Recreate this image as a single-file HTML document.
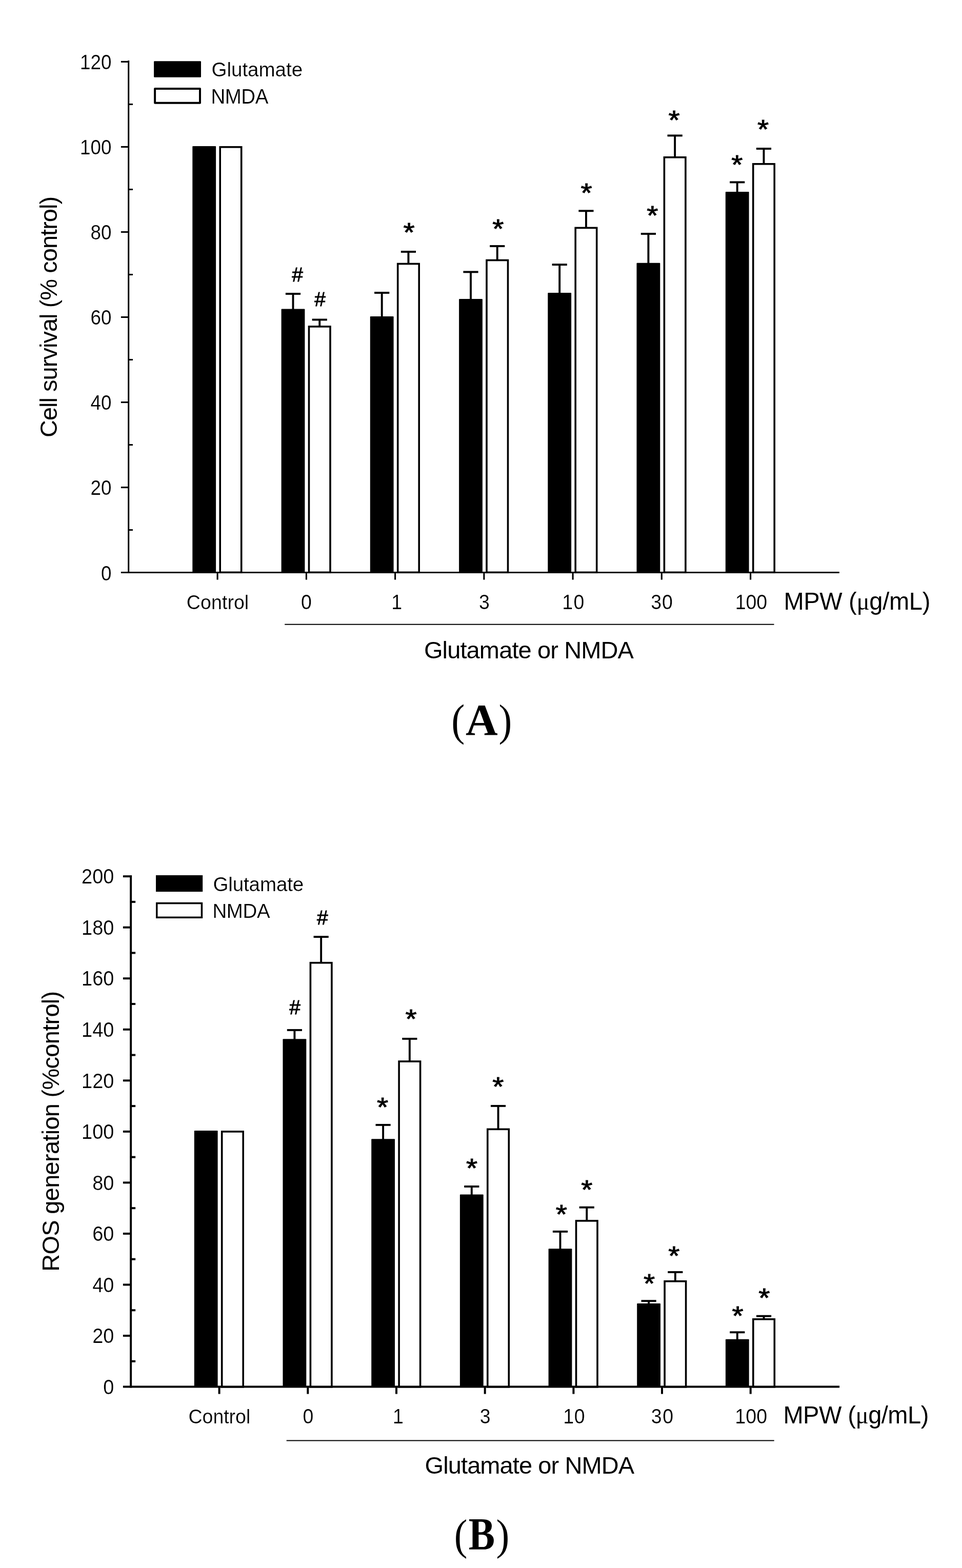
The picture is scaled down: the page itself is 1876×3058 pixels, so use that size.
<!DOCTYPE html>
<html lang="en">
<head>
<meta charset="utf-8">
<title>Figure: MPW effects on cell survival and ROS generation</title>
<style>
html, body { margin: 0; padding: 0; background: #fff; }
body { width: 1876px; height: 3058px; overflow: hidden; }
svg { display: block; }
svg text { font-family: "Liberation Sans", Arial, Helvetica, sans-serif; fill: #000; stroke: #fff; stroke-width: 0.2px; }
svg text.lg { stroke: none; }
svg text.pl { font-family: "Liberation Serif", "Times New Roman", Times, serif; font-weight: bold; stroke: none; }
svg text.pr { font-family: "Liberation Serif", "Times New Roman", Times, serif; stroke: none; }
svg tspan.mu { font-family: "Liberation Serif", "Times New Roman", Times, serif; }
svg text.hs { stroke: #000; stroke-width: 0.9px; }
svg text.as { stroke: #000; stroke-width: 1.1px; stroke-linejoin: miter; }
</style>
</head>
<body>
<svg width="1876" height="3058" viewBox="0 0 1876 3058">
<rect x="0" y="0" width="1876" height="3058" fill="#fff"/>
<!-- Panel A: cell survival -->
<g stroke="#000" fill="none">
<rect x="375.3" y="285" width="45.8" height="831.6" rx="1" fill="#000" stroke="none"/>
<rect x="429.2" y="286.8" width="41.5" height="829.5" fill="#fff" stroke-width="3.6"/>
<line x1="571.5" y1="573" x2="571.5" y2="604.4" stroke-width="3.9"/>
<line x1="556.9" y1="573" x2="586.1" y2="573" stroke-width="3.9"/>
<line x1="623.25" y1="623.5" x2="623.25" y2="637.1" stroke-width="3.9"/>
<line x1="608.65" y1="623.5" x2="637.85" y2="623.5" stroke-width="3.9"/>
<rect x="548.6" y="602.4" width="45.8" height="514.2" rx="1" fill="#000" stroke="none"/>
<rect x="602.5" y="636.9" width="41.5" height="479.4" fill="#fff" stroke-width="3.6"/>
<line x1="744.7" y1="571" x2="744.7" y2="619" stroke-width="3.9"/>
<line x1="730.1" y1="571" x2="759.3" y2="571" stroke-width="3.9"/>
<line x1="796.45" y1="491" x2="796.45" y2="514.7" stroke-width="3.9"/>
<line x1="781.85" y1="491" x2="811.05" y2="491" stroke-width="3.9"/>
<rect x="721.8" y="617" width="45.8" height="499.6" rx="1" fill="#000" stroke="none"/>
<rect x="775.7" y="514.5" width="41.5" height="601.8" fill="#fff" stroke-width="3.6"/>
<line x1="918" y1="530.4" x2="918" y2="585" stroke-width="3.9"/>
<line x1="903.4" y1="530.4" x2="932.6" y2="530.4" stroke-width="3.9"/>
<line x1="969.75" y1="480" x2="969.75" y2="507.7" stroke-width="3.9"/>
<line x1="955.15" y1="480" x2="984.35" y2="480" stroke-width="3.9"/>
<rect x="895.1" y="583" width="45.8" height="533.6" rx="1" fill="#000" stroke="none"/>
<rect x="949" y="507.5" width="41.5" height="608.8" fill="#fff" stroke-width="3.6"/>
<line x1="1091.2" y1="516.1" x2="1091.2" y2="573" stroke-width="3.9"/>
<line x1="1076.6" y1="516.1" x2="1105.8" y2="516.1" stroke-width="3.9"/>
<line x1="1142.95" y1="411.3" x2="1142.95" y2="444.6" stroke-width="3.9"/>
<line x1="1128.35" y1="411.3" x2="1157.55" y2="411.3" stroke-width="3.9"/>
<rect x="1068.3" y="571" width="45.8" height="545.6" rx="1" fill="#000" stroke="none"/>
<rect x="1122.2" y="444.4" width="41.5" height="671.9" fill="#fff" stroke-width="3.6"/>
<line x1="1264.4" y1="456" x2="1264.4" y2="514.7" stroke-width="3.9"/>
<line x1="1249.8" y1="456" x2="1279" y2="456" stroke-width="3.9"/>
<line x1="1316.15" y1="264.4" x2="1316.15" y2="307" stroke-width="3.9"/>
<line x1="1301.55" y1="264.4" x2="1330.75" y2="264.4" stroke-width="3.9"/>
<rect x="1241.5" y="512.7" width="45.8" height="603.9" rx="1" fill="#000" stroke="none"/>
<rect x="1295.4" y="306.8" width="41.5" height="809.5" fill="#fff" stroke-width="3.6"/>
<line x1="1437.7" y1="355.4" x2="1437.7" y2="376" stroke-width="3.9"/>
<line x1="1423.1" y1="355.4" x2="1452.3" y2="355.4" stroke-width="3.9"/>
<line x1="1489.45" y1="290" x2="1489.45" y2="320" stroke-width="3.9"/>
<line x1="1474.85" y1="290" x2="1504.05" y2="290" stroke-width="3.9"/>
<rect x="1414.8" y="374" width="45.8" height="742.6" rx="1" fill="#000" stroke="none"/>
<rect x="1468.7" y="319.8" width="41.5" height="796.5" fill="#fff" stroke-width="3.6"/>
<line x1="250.7" y1="118" x2="250.7" y2="1118.1" stroke-width="3"/>
<line x1="235.9" y1="1116.6" x2="1636.8" y2="1116.6" stroke-width="3"/>
<line x1="235.9" y1="120.4" x2="250.7" y2="120.4" stroke-width="3.1"/>
<line x1="250.7" y1="203.42" x2="259" y2="203.42" stroke-width="3"/>
<line x1="235.9" y1="286.43" x2="250.7" y2="286.43" stroke-width="3.1"/>
<line x1="250.7" y1="369.45" x2="259" y2="369.45" stroke-width="3"/>
<line x1="235.9" y1="452.47" x2="250.7" y2="452.47" stroke-width="3.1"/>
<line x1="250.7" y1="535.48" x2="259" y2="535.48" stroke-width="3"/>
<line x1="235.9" y1="618.5" x2="250.7" y2="618.5" stroke-width="3.1"/>
<line x1="250.7" y1="701.52" x2="259" y2="701.52" stroke-width="3"/>
<line x1="235.9" y1="784.53" x2="250.7" y2="784.53" stroke-width="3.1"/>
<line x1="250.7" y1="867.55" x2="259" y2="867.55" stroke-width="3"/>
<line x1="235.9" y1="950.57" x2="250.7" y2="950.57" stroke-width="3.1"/>
<line x1="250.7" y1="1033.58" x2="259" y2="1033.58" stroke-width="3"/>
<line x1="424.1" y1="1116.6" x2="424.1" y2="1130.6" stroke-width="3.1"/>
<line x1="597.4" y1="1116.6" x2="597.4" y2="1130.6" stroke-width="3.1"/>
<line x1="770.6" y1="1116.6" x2="770.6" y2="1130.6" stroke-width="3.1"/>
<line x1="943.9" y1="1116.6" x2="943.9" y2="1130.6" stroke-width="3.1"/>
<line x1="1117.1" y1="1116.6" x2="1117.1" y2="1130.6" stroke-width="3.1"/>
<line x1="1290.3" y1="1116.6" x2="1290.3" y2="1130.6" stroke-width="3.1"/>
<line x1="1463.6" y1="1116.6" x2="1463.6" y2="1130.6" stroke-width="3.1"/>
<line x1="555.2" y1="1217.7" x2="1509.5" y2="1217.7" stroke-width="2"/>
<rect x="300.1" y="119.2" width="91.9" height="31.6" rx="1.2" fill="#000" stroke="none"/>
<rect x="302.1" y="173.1" width="87.9" height="27.7" fill="#fff" stroke-width="4" stroke-linejoin="round"/>
</g>
<g>
<text transform="translate(217.4,135.3) scale(0.982,1.07)" font-size="37.5" text-anchor="end">120</text>
<text transform="translate(217.4,301.33) scale(0.982,1.07)" font-size="37.5" text-anchor="end">100</text>
<text transform="translate(217.4,467.37) scale(0.982,1.07)" font-size="37.5" text-anchor="end">80</text>
<text transform="translate(217.4,633.4) scale(0.982,1.07)" font-size="37.5" text-anchor="end">60</text>
<text transform="translate(217.4,799.43) scale(0.982,1.07)" font-size="37.5" text-anchor="end">40</text>
<text transform="translate(217.4,965.47) scale(0.982,1.07)" font-size="37.5" text-anchor="end">20</text>
<text transform="translate(217.4,1131.5) scale(0.982,1.07)" font-size="37.5" text-anchor="end">0</text>
<text transform="translate(363.86,1187.6) scale(1,1.04)" font-size="37.5" letter-spacing="0.08">Control</text>
<text transform="translate(586.99,1187.6) scale(1,1.07)" font-size="37.5">0</text>
<text transform="translate(763.13,1187.6) scale(1,1.07)" font-size="37.5">1</text>
<text transform="translate(934.07,1187.6) scale(1,1.07)" font-size="37.5">3</text>
<text transform="translate(1096.35,1187.6) scale(1,1.07)" font-size="37.5" letter-spacing="1.25">10</text>
<text transform="translate(1269.13,1187.6) scale(1,1.07)" font-size="37.5" letter-spacing="1.09">30</text>
<text transform="translate(1433.84,1187.6) scale(1,1.07)" font-size="37.5" letter-spacing="-0.14">100</text>
<text transform="translate(1528.4,1188.5) scale(1,1.03)" font-size="47" class="lg" letter-spacing="-0.3">MPW (<tspan class="mu">μ</tspan>g/mL)</text>
<text x="826.93" y="1283.9" font-size="47" class="lg" letter-spacing="-0.88">Glutamate or NMDA</text>
<g class="panel-label"><text transform="translate(880.36,1433.79) scale(0.9100,1.0003)" font-size="86" class="pr">(</text><text transform="translate(908.05,1432.75) scale(1.0093,1.0154)" font-size="86" class="pl">A</text><text transform="translate(972.5,1433.79) scale(0.9009,1.0003)" font-size="86" class="pr">)</text></g>
<text transform="translate(111.2,853.02) rotate(-90)" font-size="47" class="lg" letter-spacing="-0.98">Cell survival (% control)</text>
<text x="412.47" y="148.9" font-size="38.5" letter-spacing="0.01">Glutamate</text>
<text transform="translate(411.42,202) scale(1,1.045)" font-size="38.5" letter-spacing="-0.47">NMDA</text>
<text x="580.1" y="548.8" font-size="39" text-anchor="middle" class="hs">#</text>
<text x="624.1" y="597" font-size="39" text-anchor="middle" class="hs">#</text>
<text transform="translate(797.6,454) scale(1,0.9)" y="19.21" font-size="57" text-anchor="middle" class="as">*</text>
<text transform="translate(971.4,446.4) scale(1,0.9)" y="19.21" font-size="57" text-anchor="middle" class="as">*</text>
<text transform="translate(1143.7,377) scale(1,0.9)" y="19.21" font-size="57" text-anchor="middle" class="as">*</text>
<text transform="translate(1272.4,421) scale(1,0.9)" y="19.21" font-size="57" text-anchor="middle" class="as">*</text>
<text transform="translate(1314.7,234.7) scale(1,0.9)" y="19.21" font-size="57" text-anchor="middle" class="as">*</text>
<text transform="translate(1437.4,321.7) scale(1,0.9)" y="19.21" font-size="57" text-anchor="middle" class="as">*</text>
<text transform="translate(1488,253) scale(1,0.9)" y="19.21" font-size="57" text-anchor="middle" class="as">*</text>
</g>
<!-- Panel B: ROS generation -->
<g stroke="#000" fill="none">
<rect x="378.8" y="2205.1" width="45.8" height="499.5" rx="1" fill="#000" stroke="none"/>
<rect x="432.7" y="2206.9" width="41.5" height="497.9" fill="#fff" stroke-width="3.6"/>
<line x1="574.4" y1="2008.9" x2="574.4" y2="2028.3" stroke-width="3.9"/>
<line x1="559.8" y1="2008.9" x2="589" y2="2008.9" stroke-width="3.9"/>
<line x1="626.15" y1="1827.1" x2="626.15" y2="1877.9" stroke-width="3.9"/>
<line x1="611.55" y1="1827.1" x2="640.75" y2="1827.1" stroke-width="3.9"/>
<rect x="551.5" y="2026.3" width="45.8" height="678.3" rx="1" fill="#000" stroke="none"/>
<rect x="605.4" y="1877.7" width="41.5" height="827.1" fill="#fff" stroke-width="3.6"/>
<line x1="747.1" y1="2193.9" x2="747.1" y2="2223.3" stroke-width="3.9"/>
<line x1="732.5" y1="2193.9" x2="761.7" y2="2193.9" stroke-width="3.9"/>
<line x1="798.85" y1="2025.9" x2="798.85" y2="2070.2" stroke-width="3.9"/>
<line x1="784.25" y1="2025.9" x2="813.45" y2="2025.9" stroke-width="3.9"/>
<rect x="724.2" y="2221.3" width="45.8" height="483.3" rx="1" fill="#000" stroke="none"/>
<rect x="778.1" y="2070" width="41.5" height="634.8" fill="#fff" stroke-width="3.6"/>
<line x1="919.8" y1="2314" x2="919.8" y2="2331.5" stroke-width="3.9"/>
<line x1="905.2" y1="2314" x2="934.4" y2="2314" stroke-width="3.9"/>
<line x1="971.55" y1="2156.9" x2="971.55" y2="2202.5" stroke-width="3.9"/>
<line x1="956.95" y1="2156.9" x2="986.15" y2="2156.9" stroke-width="3.9"/>
<rect x="896.9" y="2329.5" width="45.8" height="375.1" rx="1" fill="#000" stroke="none"/>
<rect x="950.8" y="2202.3" width="41.5" height="502.5" fill="#fff" stroke-width="3.6"/>
<line x1="1092.5" y1="2401.9" x2="1092.5" y2="2437.3" stroke-width="3.9"/>
<line x1="1077.9" y1="2401.9" x2="1107.1" y2="2401.9" stroke-width="3.9"/>
<line x1="1144.25" y1="2354.7" x2="1144.25" y2="2381.1" stroke-width="3.9"/>
<line x1="1129.65" y1="2354.7" x2="1158.85" y2="2354.7" stroke-width="3.9"/>
<rect x="1069.6" y="2435.3" width="45.8" height="269.3" rx="1" fill="#000" stroke="none"/>
<rect x="1123.5" y="2380.9" width="41.5" height="323.9" fill="#fff" stroke-width="3.6"/>
<line x1="1265.1" y1="2537.2" x2="1265.1" y2="2544.1" stroke-width="3.9"/>
<line x1="1250.5" y1="2537.2" x2="1279.7" y2="2537.2" stroke-width="3.9"/>
<line x1="1316.85" y1="2481" x2="1316.85" y2="2499" stroke-width="3.9"/>
<line x1="1302.25" y1="2481" x2="1331.45" y2="2481" stroke-width="3.9"/>
<rect x="1242.2" y="2542.1" width="45.8" height="162.5" rx="1" fill="#000" stroke="none"/>
<rect x="1296.1" y="2498.8" width="41.5" height="206" fill="#fff" stroke-width="3.6"/>
<line x1="1437.8" y1="2598.3" x2="1437.8" y2="2613.8" stroke-width="3.9"/>
<line x1="1423.2" y1="2598.3" x2="1452.4" y2="2598.3" stroke-width="3.9"/>
<line x1="1489.55" y1="2566.7" x2="1489.55" y2="2573" stroke-width="3.9"/>
<line x1="1474.95" y1="2566.7" x2="1504.15" y2="2566.7" stroke-width="3.9"/>
<rect x="1414.9" y="2611.8" width="45.8" height="92.8" rx="1" fill="#000" stroke="none"/>
<rect x="1468.8" y="2572.8" width="41.5" height="132" fill="#fff" stroke-width="3.6"/>
<line x1="255.15" y1="1706.9" x2="255.15" y2="2706.6" stroke-width="4"/>
<line x1="239.9" y1="2704.6" x2="1637.1" y2="2704.6" stroke-width="4"/>
<line x1="239.9" y1="1709.1" x2="255.15" y2="1709.1" stroke-width="4"/>
<line x1="255.15" y1="1758.88" x2="264.15" y2="1758.88" stroke-width="4"/>
<line x1="239.9" y1="1808.65" x2="255.15" y2="1808.65" stroke-width="4"/>
<line x1="255.15" y1="1858.42" x2="264.15" y2="1858.42" stroke-width="4"/>
<line x1="239.9" y1="1908.2" x2="255.15" y2="1908.2" stroke-width="4"/>
<line x1="255.15" y1="1957.97" x2="264.15" y2="1957.97" stroke-width="4"/>
<line x1="239.9" y1="2007.75" x2="255.15" y2="2007.75" stroke-width="4"/>
<line x1="255.15" y1="2057.53" x2="264.15" y2="2057.53" stroke-width="4"/>
<line x1="239.9" y1="2107.3" x2="255.15" y2="2107.3" stroke-width="4"/>
<line x1="255.15" y1="2157.07" x2="264.15" y2="2157.07" stroke-width="4"/>
<line x1="239.9" y1="2206.85" x2="255.15" y2="2206.85" stroke-width="4"/>
<line x1="255.15" y1="2256.62" x2="264.15" y2="2256.62" stroke-width="4"/>
<line x1="239.9" y1="2306.4" x2="255.15" y2="2306.4" stroke-width="4"/>
<line x1="255.15" y1="2356.17" x2="264.15" y2="2356.17" stroke-width="4"/>
<line x1="239.9" y1="2405.95" x2="255.15" y2="2405.95" stroke-width="4"/>
<line x1="255.15" y1="2455.72" x2="264.15" y2="2455.72" stroke-width="4"/>
<line x1="239.9" y1="2505.5" x2="255.15" y2="2505.5" stroke-width="4"/>
<line x1="255.15" y1="2555.28" x2="264.15" y2="2555.28" stroke-width="4"/>
<line x1="239.9" y1="2605.05" x2="255.15" y2="2605.05" stroke-width="4"/>
<line x1="255.15" y1="2654.82" x2="264.15" y2="2654.82" stroke-width="4"/>
<line x1="427.6" y1="2704.6" x2="427.6" y2="2718.6" stroke-width="4"/>
<line x1="600.3" y1="2704.6" x2="600.3" y2="2718.6" stroke-width="4"/>
<line x1="773" y1="2704.6" x2="773" y2="2718.6" stroke-width="4"/>
<line x1="945.7" y1="2704.6" x2="945.7" y2="2718.6" stroke-width="4"/>
<line x1="1118.4" y1="2704.6" x2="1118.4" y2="2718.6" stroke-width="4"/>
<line x1="1291" y1="2704.6" x2="1291" y2="2718.6" stroke-width="4"/>
<line x1="1463.7" y1="2704.6" x2="1463.7" y2="2718.6" stroke-width="4"/>
<line x1="558.7" y1="2809.6" x2="1509.7" y2="2809.6" stroke-width="2"/>
<rect x="304" y="1706.9" width="91.2" height="32.2" fill="#000" stroke="none"/>
<rect x="305.75" y="1761.55" width="87.7" height="27.7" fill="#fff" stroke-width="3.5"/>
</g>
<g>
<text transform="translate(222.4,1723.3) scale(1.012,1.07)" font-size="37.5" text-anchor="end">200</text>
<text transform="translate(222.4,1822.85) scale(1.012,1.07)" font-size="37.5" text-anchor="end">180</text>
<text transform="translate(222.4,1922.4) scale(1.012,1.07)" font-size="37.5" text-anchor="end">160</text>
<text transform="translate(222.4,2021.95) scale(1.012,1.07)" font-size="37.5" text-anchor="end">140</text>
<text transform="translate(222.4,2121.5) scale(1.012,1.07)" font-size="37.5" text-anchor="end">120</text>
<text transform="translate(222.4,2221.05) scale(1.012,1.07)" font-size="37.5" text-anchor="end">100</text>
<text transform="translate(222.4,2320.6) scale(1.012,1.07)" font-size="37.5" text-anchor="end">80</text>
<text transform="translate(222.4,2420.15) scale(1.012,1.07)" font-size="37.5" text-anchor="end">60</text>
<text transform="translate(222.4,2519.7) scale(1.012,1.07)" font-size="37.5" text-anchor="end">40</text>
<text transform="translate(222.4,2619.25) scale(1.012,1.07)" font-size="37.5" text-anchor="end">20</text>
<text transform="translate(222.4,2718.8) scale(1.012,1.07)" font-size="37.5" text-anchor="end">0</text>
<text transform="translate(367.49,2775.7) scale(1,1.04)" font-size="37.5" letter-spacing="-0.02">Control</text>
<text transform="translate(590.44,2775.7) scale(1,1.07)" font-size="37.5">0</text>
<text transform="translate(765.92,2775.7) scale(1,1.07)" font-size="37.5">1</text>
<text transform="translate(935.68,2775.7) scale(1,1.07)" font-size="37.5">3</text>
<text transform="translate(1098.14,2775.7) scale(1,1.07)" font-size="37.5" letter-spacing="0.84">10</text>
<text transform="translate(1269.64,2775.7) scale(1,1.07)" font-size="37.5" letter-spacing="1.78">30</text>
<text transform="translate(1433.34,2775.7) scale(1,1.07)" font-size="37.5" letter-spacing="0.12">100</text>
<text transform="translate(1527.42,2776.2) scale(1,1.03)" font-size="47" class="lg" letter-spacing="-0.5">MPW (<tspan class="mu">μ</tspan>g/mL)</text>
<text x="828.58" y="2874.4" font-size="47" class="lg" letter-spacing="-0.91">Glutamate or NMDA</text>
<g class="panel-label"><text transform="translate(885.71,3021.5) scale(0.8964,0.9939)" font-size="86" class="pr">(</text><text transform="translate(913.72,3020.74) scale(0.8947,1.0236)" font-size="86" class="pl">B</text><text transform="translate(967.6,3021.5) scale(0.9009,0.9939)" font-size="86" class="pr">)</text></g>
<text transform="translate(114.6,2479.73) rotate(-90)" font-size="47" class="lg" letter-spacing="-0.72">ROS generation (%control)</text>
<text x="415.4" y="1737.9" font-size="38.5" letter-spacing="-0.1">Glutamate</text>
<text transform="translate(414.43,1789.8) scale(1,1.015)" font-size="38.5" letter-spacing="-0.39">NMDA</text>
<text x="575" y="1978.2" font-size="39" text-anchor="middle" class="hs">#</text>
<text x="628.8" y="1803.4" font-size="39" text-anchor="middle" class="hs">#</text>
<text transform="translate(746.2,2160.1) scale(1,0.9)" y="19.21" font-size="57" text-anchor="middle" class="as">*</text>
<text transform="translate(801.5,1988.2) scale(1,0.9)" y="19.21" font-size="57" text-anchor="middle" class="as">*</text>
<text transform="translate(920.2,2278.3) scale(1,0.9)" y="19.21" font-size="57" text-anchor="middle" class="as">*</text>
<text transform="translate(971.4,2120.2) scale(1,0.9)" y="19.21" font-size="57" text-anchor="middle" class="as">*</text>
<text transform="translate(1094.8,2369.2) scale(1,0.9)" y="19.21" font-size="57" text-anchor="middle" class="as">*</text>
<text transform="translate(1144.4,2321.2) scale(1,0.9)" y="19.21" font-size="57" text-anchor="middle" class="as">*</text>
<text transform="translate(1266.1,2504.1) scale(1,0.9)" y="19.21" font-size="57" text-anchor="middle" class="as">*</text>
<text transform="translate(1314.4,2449.5) scale(1,0.9)" y="19.21" font-size="57" text-anchor="middle" class="as">*</text>
<text transform="translate(1438.6,2566.4) scale(1,0.9)" y="19.21" font-size="57" text-anchor="middle" class="as">*</text>
<text transform="translate(1490.3,2531.4) scale(1,0.9)" y="19.21" font-size="57" text-anchor="middle" class="as">*</text>
</g>
</svg>
</body>
</html>
